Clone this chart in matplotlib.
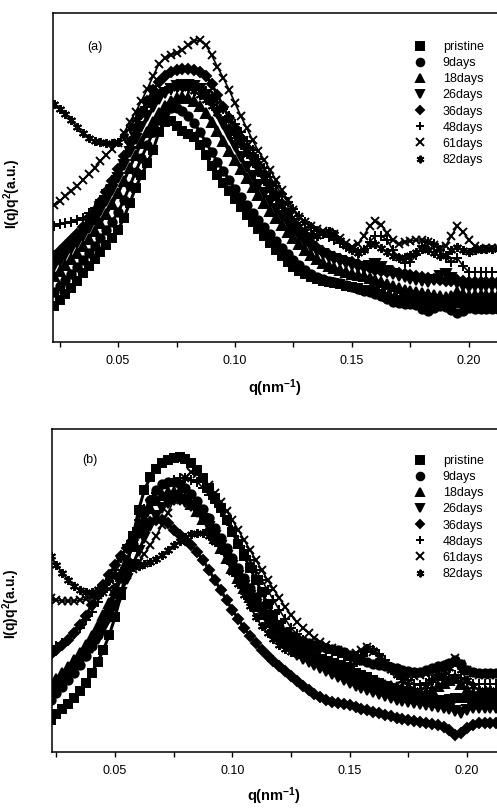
import matplotlib
matplotlib.use('Agg')
import matplotlib.pyplot as plt
from matplotlib.lines import Line2D
from matplotlib.ticker import MultipleLocator, NullLocator

plt.rcParams['font.family'] = ['Liberation Sans', 'DejaVu Sans']
plt.rcParams['mathtext.fontset'] = 'custom'
plt.rcParams['mathtext.rm'] = 'Liberation Sans'
plt.rcParams['mathtext.bf'] = 'Liberation Sans:bold'
plt.rcParams['mathtext.default'] = 'bf'

# scattering vector, nm^-1
q = [0.0225, 0.0250, 0.0275, 0.0300, 0.0325, 0.0350, 0.0375, 0.0400, 0.0425, 0.0450,
     0.0475, 0.0500, 0.0525, 0.0550, 0.0575, 0.0600, 0.0625, 0.0650, 0.0675, 0.0700,
     0.0725, 0.0750, 0.0775, 0.0800, 0.0825, 0.0850, 0.0875, 0.0900, 0.0925, 0.0950,
     0.0975, 0.1000, 0.1025, 0.1050, 0.1075, 0.1100, 0.1125, 0.1150, 0.1175, 0.1200,
     0.1225, 0.1250, 0.1275, 0.1300, 0.1325, 0.1350, 0.1375, 0.1400, 0.1425, 0.1450,
     0.1475, 0.1500, 0.1525, 0.1550, 0.1575, 0.1600, 0.1625, 0.1650, 0.1675, 0.1700,
     0.1725, 0.1750, 0.1775, 0.1800, 0.1825, 0.1850, 0.1875, 0.1900, 0.1925, 0.1950,
     0.1975, 0.2000, 0.2025, 0.2050, 0.2075, 0.2100, 0.2125]

labels = ['pristine', '9days', '18days', '26days', '36days', '48days', '61days', '82days']

# panel (a) I(q)q^2, arbitrary units
a_pristine = [36, 42, 48, 54, 61, 69, 76, 83, 90, 97, 104, 112, 124, 139, 154, 167, 179, 192, 210, 220,
              221, 216, 211, 208, 205, 197, 187, 176, 167, 159, 151, 143, 135, 127, 120, 113, 106, 99, 92, 86,
              80, 75, 71, 68, 65, 63, 61, 60, 59, 58, 56, 55, 54, 52, 51, 50, 48, 45, 43, 42,
              41, 41, 39, 39, 40, 39, 38, 38, 39, 39, 39, 38, 39, 39, 39, 39, 39]
a_9d = [50, 56, 62, 68, 75, 82, 89, 96, 104, 112, 120, 130, 142, 156, 170, 184, 197, 210, 222, 230,
        234, 234, 231, 226, 219, 210, 200, 190, 180, 171, 162, 153, 145, 137, 129, 122, 115, 108, 101, 94,
        88, 82, 77, 72, 68, 65, 63, 61, 60, 59, 57, 55, 53, 51, 50, 48, 46, 43, 40, 39,
        38, 38, 37, 33, 31, 34, 36, 35, 32, 29, 31, 34, 33, 33, 33, 33, 33]
a_18d = [66, 71, 77, 83, 89, 96, 103, 111, 119, 128, 138, 149, 161, 174, 187, 199, 210, 220, 229, 236,
         241, 244, 245, 244, 241, 236, 229, 220, 211, 201, 191, 182, 173, 164, 155, 147, 139, 131, 124, 117,
         110, 104, 98, 92, 87, 83, 79, 76, 74, 72, 70, 68, 67, 66, 64, 62, 60, 58, 56, 54,
         52, 51, 50, 49, 48, 47, 46, 45, 46, 50, 48, 46, 47, 47, 47, 47, 47]
a_26d = [76, 81, 87, 93, 99, 106, 114, 122, 131, 141, 152, 164, 177, 190, 203, 215, 226, 235, 243, 249,
         253, 256, 257, 257, 256, 253, 247, 239, 229, 218, 207, 196, 185, 175, 166, 157, 149, 141, 133, 126,
         119, 112, 106, 100, 95, 91, 88, 85, 83, 81, 79, 77, 75, 74, 76, 78, 75, 71, 68, 66,
         65, 63, 62, 61, 60, 62, 66, 68, 64, 59, 56, 55, 56, 56, 56, 56, 56]
a_36d = [86, 91, 96, 102, 108, 115, 123, 131, 140, 150, 161, 173, 186, 200, 214, 228, 241, 252, 260, 266,
         270, 272, 273, 273, 272, 270, 266, 258, 247, 235, 224, 214, 204, 194, 185, 176, 167, 157, 147, 138,
         129, 120, 112, 105, 99, 94, 90, 87, 85, 83, 81, 80, 78, 76, 74, 72, 71, 70, 70, 69,
         68, 67, 66, 65, 64, 63, 62, 61, 61, 62, 61, 60, 60, 60, 60, 60, 60]
a_48d = [116, 118, 119, 120, 122, 124, 129, 134, 142, 152, 162, 172, 186, 201, 215, 227, 235, 242, 246, 250,
         252, 254, 255, 256, 256, 254, 251, 246, 240, 233, 226, 218, 210, 201, 192, 183, 174, 165, 156, 148,
         140, 133, 126, 120, 115, 111, 108, 105, 102, 99, 95, 92, 90, 92, 100, 106, 106, 102, 92, 84,
         79, 80, 87, 96, 100, 98, 92, 84, 80, 84, 76, 70, 70, 70, 70, 70, 70]
a_61d = [137, 141, 146, 151, 156, 162, 168, 174, 181, 187, 193, 199, 209, 220, 230, 241, 253, 266, 278, 284,
         287, 289, 292, 297, 301, 302, 297, 287, 275, 264, 252, 239, 226, 214, 202, 191, 182, 172, 162, 152,
         142, 132, 125, 120, 116, 113, 111, 110, 108, 104, 99, 95, 98, 106, 116, 121, 117, 109, 102, 98,
         100, 101, 102, 102, 100, 97, 94, 96, 106, 116, 110, 102, 96, 93, 94, 94, 94]
a_82d = [238, 233, 228, 222, 215, 209, 204, 201, 200, 199, 199, 200, 206, 214, 223, 232, 239, 245, 249, 252,
         254, 255, 255, 254, 251, 247, 242, 236, 229, 222, 214, 206, 197, 188, 179, 170, 161, 152, 144, 136,
         129, 122, 116, 111, 107, 106, 109, 111, 108, 102, 96, 92, 89, 92, 98, 98, 94, 90, 86, 84,
         85, 87, 90, 93, 92, 89, 86, 87, 92, 95, 92, 90, 92, 93, 93, 93, 93]

# panel (b)
b_pristine = [32, 38, 43, 48, 54, 61, 69, 79, 90, 102, 117, 135, 157, 184, 214, 242, 262, 275, 283, 289,
              292, 294, 295, 293, 289, 282, 274, 264, 254, 244, 232, 220, 208, 196, 184, 172, 160, 148, 137, 127,
              118, 111, 106, 102, 99, 96, 93, 91, 89, 87, 85, 82, 79, 77, 75, 72, 69, 66, 64, 62,
              60, 58, 56, 55, 54, 53, 52, 52, 53, 54, 54, 54, 54, 54, 54, 54, 54]
b_9d = [52, 59, 65, 72, 79, 87, 96, 106, 117, 129, 143, 158, 174, 191, 208, 224, 239, 252, 262, 268,
        270, 270, 268, 264, 258, 251, 243, 234, 224, 214, 204, 194, 184, 174, 164, 155, 146, 138, 131, 125,
        120, 116, 113, 111, 109, 107, 105, 104, 103, 102, 100, 97, 94, 92, 90, 88, 87, 86, 85, 84,
        82, 81, 80, 80, 82, 84, 86, 87, 89, 92, 88, 82, 80, 79, 79, 79, 79]
b_18d = [68, 73, 79, 85, 92, 99, 107, 116, 126, 137, 149, 162, 176, 191, 206, 220, 233, 244, 252, 257,
         260, 260, 258, 254, 248, 241, 233, 224, 214, 204, 194, 184, 174, 164, 155, 146, 138, 130, 123, 117,
         111, 106, 102, 99, 96, 93, 90, 87, 85, 83, 81, 79, 77, 75, 73, 71, 69, 67, 66, 65,
         64, 62, 60, 58, 59, 62, 66, 69, 72, 74, 68, 62, 58, 56, 55, 55, 55]
b_26d = [60, 65, 70, 76, 82, 89, 96, 104, 113, 123, 134, 146, 159, 173, 187, 201, 214, 226, 236, 244,
         249, 252, 252, 250, 246, 240, 233, 225, 216, 206, 196, 186, 176, 166, 156, 147, 138, 130, 122, 115,
         108, 102, 97, 93, 90, 87, 84, 81, 78, 75, 72, 69, 66, 64, 62, 60, 58, 56, 54, 52,
         51, 50, 49, 48, 47, 46, 45, 44, 43, 41, 39, 42, 44, 44, 44, 44, 44]
b_36d = [98, 102, 107, 112, 119, 127, 136, 147, 157, 167, 177, 187, 196, 204, 212, 219, 225, 230, 232, 232,
         229, 222, 217, 212, 207, 200, 192, 182, 172, 162, 152, 142, 133, 124, 116, 109, 102, 96, 91, 86,
         81, 76, 71, 66, 62, 58, 55, 52, 50, 49, 48, 47, 45, 43, 42, 40, 39, 37, 36, 34,
         33, 32, 31, 30, 29, 28, 27, 25, 22, 17, 19, 24, 27, 29, 29, 29, 29]
b_48d = [102, 106, 109, 112, 118, 124, 132, 140, 150, 160, 171, 182, 194, 207, 220, 232, 243, 252, 259, 264,
         268, 272, 274, 274, 272, 270, 264, 257, 249, 240, 231, 222, 212, 202, 192, 182, 172, 162, 152, 142,
         133, 124, 118, 112, 107, 104, 102, 101, 99, 97, 95, 92, 92, 96, 100, 102, 98, 92, 85, 80,
         76, 72, 68, 67, 69, 72, 74, 72, 74, 77, 74, 69, 68, 68, 68, 68, 68]
b_61d = [154, 152, 151, 151, 151, 152, 153, 155, 157, 160, 163, 167, 172, 177, 183, 190, 198, 207, 216, 227,
         239, 252, 264, 274, 280, 278, 273, 267, 259, 250, 241, 232, 222, 212, 202, 192, 182, 172, 163, 154,
         145, 137, 130, 124, 119, 114, 110, 107, 104, 102, 99, 97, 99, 102, 105, 100, 94, 87, 83, 80,
         78, 77, 76, 77, 78, 79, 80, 82, 88, 94, 88, 82, 79, 77, 77, 77, 77]
b_82d = [196, 187, 179, 172, 166, 162, 160, 160, 163, 167, 172, 177, 181, 184, 185, 186, 188, 190, 193, 197,
         202, 207, 211, 215, 218, 219, 219, 216, 210, 202, 192, 180, 168, 157, 146, 135, 126, 119, 113, 107,
         103, 100, 98, 97, 95, 94, 93, 92, 90, 88, 87, 87, 90, 96, 104, 102, 95, 88, 82, 77,
         72, 67, 62, 62, 66, 72, 76, 77, 84, 90, 82, 72, 66, 62, 62, 62, 62]

series_a = [a_pristine, a_9d, a_18d, a_26d, a_36d, a_48d, a_61d, a_82d]
series_b = [b_pristine, b_9d, b_18d, b_26d, b_36d, b_48d, b_61d, b_82d]

markers = ['s', 'o', '^', 'v', 'D', '+', 'x', (6, 2, 0)]
sizes = [5.5, 6, 6.5, 6.5, 5, 6.5, 6, 6.5]
widths = [2.2, 2.2, 2.2, 2.2, 2.2, 1.2, 1.2, 1.4]

W, H = 497, 811
fig = plt.figure(figsize=(W / 100, H / 100), dpi=100)


def panel(left, top, bottom, xlim, tag, series, leg_top, ylab_y, xlab_pad):
    ax = fig.add_axes([left / W, 1 - bottom / H, (W - left) / W, (bottom - top) / H])
    for y, m, s, w in zip(series, markers, sizes, widths):
        ax.plot(q, y, color='k', lw=w, marker=m, ms=s, mew=1.4)
    ax.set_xlim(*xlim)
    ax.set_ylim(0, bottom - top)
    ax.spines['right'].set_visible(False)
    for sp in ['left', 'bottom', 'top']:
        ax.spines[sp].set_linewidth(1.1)
    ax.xaxis.set_major_locator(MultipleLocator(0.05))
    ax.xaxis.set_minor_locator(MultipleLocator(0.025))
    ax.xaxis.set_major_formatter(plt.FormatStrFormatter('%.2f'))
    ax.yaxis.set_major_locator(NullLocator())
    ax.tick_params(axis='x', which='both', direction='out', length=3.5, width=1.0,
                   labelsize=9, pad=6, top=False)
    ax.set_xlabel(r'q(nm$^{-1}$)', fontsize=10.5, fontweight='bold', labelpad=xlab_pad)
    ax.set_ylabel(r'I(q)q$^{2}$(a.u.)', fontsize=10, fontweight='bold')
    ax.yaxis.set_label_coords(-0.068, ylab_y)
    ax.text(tag[1], tag[2], tag[0], transform=ax.transAxes, fontsize=9,
            ha='center', va='center')
    handles = [Line2D([], [], ls='none', marker=m, color='k', ms=5.5 if m != 'D' else 4.5, mew=1.4)
               for m in markers]
    ax.legend(handles, labels, loc='upper left', frameon=False, fontsize=9,
              bbox_to_anchor=(414 / W, 1 - leg_top / H), bbox_transform=fig.transFigure,
              borderpad=0, borderaxespad=0, handlelength=1.0, handletextpad=1.3,
              labelspacing=0.33)
    return ax


panel(53, 13, 342, (0.0222, 0.2120), ('(a)', 0.095, 0.897), series_a, 41, 0.45, 7)
panel(52, 429, 752, (0.0231, 0.2128), ('(b)', 0.085, 0.904), series_b, 455, 0.46, 6)

fig.savefig('out.png', dpi=100)
